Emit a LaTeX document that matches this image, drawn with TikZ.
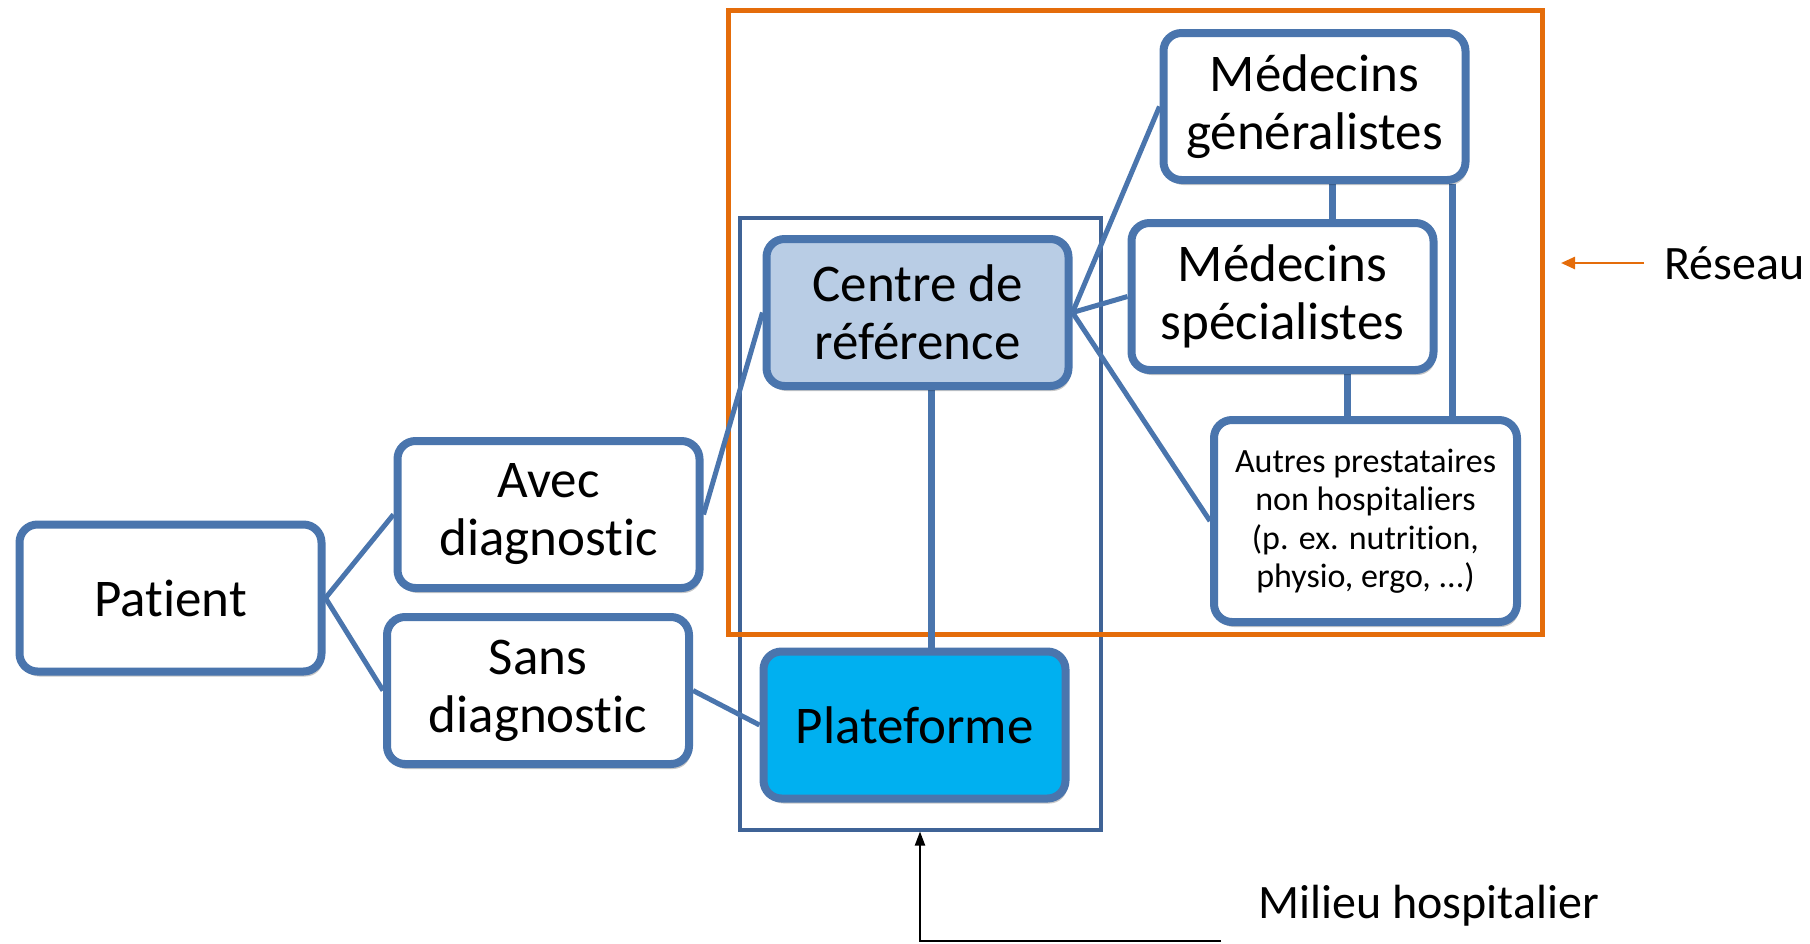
\documentclass[tikz,border=0pt]{standalone}
\usepackage{fontspec}
\setmainfont{Carlito}[Ligatures=NoCommon]
\usetikzlibrary{shadows,arrows.meta}
\definecolor{boxblue}{HTML}{4A75AD}
\definecolor{centrefill}{HTML}{B9CDE5}
\definecolor{platfill}{HTML}{00B0F0}
\definecolor{reseauorange}{HTML}{E46C0A}
\definecolor{milieublue}{HTML}{3F6396}
\pgfdeclarelayer{frames}
\pgfdeclarelayer{lines}
\pgfsetlayers{frames,lines,main}
\tikzset{
  box/.style={draw=boxblue, line width=8pt, rounded corners=18pt, fill=white,
    minimum width=302pt, minimum height=147pt, align=center, inner sep=0pt,
    font=\fontsize{53}{58}\selectfont,
    drop shadow={shadow xshift=2pt, shadow yshift=-5pt, opacity=0.22, fill=black}},
  smallbox/.style={box, font=\fontsize{34}{38.5}\selectfont},
  conn/.style={draw=boxblue, line width=5pt},
  vconn/.style={draw=boxblue, line width=7pt},
  labeltext/.style={font=\fontsize{48}{56}\selectfont, inner sep=0pt, anchor=west},
}
\begin{document}
\begin{tikzpicture}[x=1pt,y=-1pt]
\useasboundingbox (0,0) rectangle (1810,943);
% boxes
\node[box] (patient) at (170.5,598) {Patient};
\node[box] (avec) at (548.5,514.5) {Avec\\diagnostic};
\node[box] (sans) at (538,690.5) {Sans\\diagnostic};
\node[box, fill=centrefill] (centre) at (917.5,312.5) {Centre de\\référence};
\node[box, fill=platfill] (plat) at (914.5,725) {Plateforme};
\node[box] (mg) at (1314.5,106.5) {Médecins\\généralistes};
\node[box] (ms) at (1282.5,296.5) {Médecins\\spécialistes};
\node[smallbox, minimum height=202pt, minimum width=303pt] (autres) at (1365.5,521)
  {Autres prestataires\\non hospitaliers\\(p. ex. nutrition,\\physio, ergo, ...)};
% frames
\begin{pgfonlayer}{frames}
\node[draw=milieublue, line width=4pt, minimum width=361pt, minimum height=612pt, inner sep=0pt]
  (milieuframe) at (920,523.5) {};
\node[draw=reseauorange, line width=5pt, minimum width=814pt, minimum height=624pt, inner sep=0pt]
  (reseauframe) at (1135,322) {};
\end{pgfonlayer}
% connectors
\begin{pgfonlayer}{lines}
\draw[conn] (patient.east) -- (avec.west);
\draw[conn] (patient.east) -- (sans.west);
\draw[conn] (avec.east) -- (centre.west);
\draw[conn] (sans.east) -- (plat.west);
\draw[vconn] ([xshift=13.5pt]centre.south) -- ([xshift=13.5pt]centre.south |- plat.north);
\draw[conn] (centre.east) -- (mg.west);
\draw[conn] (centre.east) -- (ms.west);
\draw[conn] (centre.east) -- (autres.west);
\draw[vconn] ([xshift=17.5pt]mg.south) -- ([xshift=17.5pt]mg.south |- ms.north);
\draw[vconn] ([xshift=64.5pt]ms.south) -- ([xshift=64.5pt]ms.south |- autres.north);
\draw[vconn] ([xshift=137.5pt]mg.south) -- ([xshift=137.5pt]mg.south |- autres.north);
\end{pgfonlayer}
% labels
\node[labeltext] (reseau) at (1664,263) {Réseau};
\coordinate (reseaustart) at (1644,263);
\coordinate (reseauend) at (1561,263);
\draw[reseauorange, line width=2.5pt, -{Triangle[length=14pt,width=12pt]}] (reseaustart) -- (reseauend);
\node[labeltext] (milieu) at (1258,906) {Milieu hospitalier};
\coordinate (milieustart) at (1221,941);
\coordinate (milieucorner) at (920,941);
\draw[black, line width=2pt, -{Triangle[length=14pt,width=10pt]}] (milieustart) -- (milieucorner) -- (milieuframe.south);
\end{tikzpicture}
\end{document}
